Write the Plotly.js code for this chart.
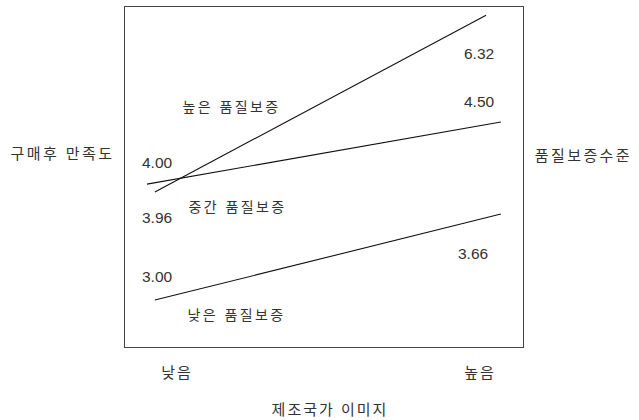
<!DOCTYPE html>
<html>
<head>
<meta charset="utf-8">
<script src="https://cdn.plot.ly/plotly-3.0.1.min.js"></script>
<style>html,body{margin:0;padding:0;background:#fff;}#chart{width:639px;height:420px;}</style>
</head>
<body>
<div id="chart"></div>
<script>
// Data
const groups = ['높은 품질보증', '중간 품질보증', '낮은 품질보증'];
const xTickLabels = ['낮음', '높음'];
const xTickVals = [0, 1];
// reported means (low / high country-of-origin image)
const highValues = [3.96, 6.32];
const midValues = [4.00, 4.50];
const lowValues = [3.00, 3.66];
// schematic line endpoints as drawn in the figure (hidden scale)
const highX = [-0.073, 1.020];
const highY = [4.56, 9.76];
const midX = [-0.099, 1.069];
const midY = [4.79, 6.62];
const lowX = [-0.073, 1.069];
const lowY = [1.38, 3.91];

const fontFam = 'Liberation Sans, Noto Sans CJK KR, sans-serif';
const txtColor = '#333';

const lineStyle = {color: '#111', width: 1.1};
const traces = [
  {x: highX, y: highY, mode: 'lines', line: lineStyle, name: groups[0], hoverinfo: 'skip'},
  {x: midX, y: midY, mode: 'lines', line: lineStyle, name: groups[1], hoverinfo: 'skip'},
  {x: lowX, y: lowY, mode: 'lines', line: lineStyle, name: groups[2], hoverinfo: 'skip'}
];

function ann(text, x, y, size) {
  return {text: text, x: x, y: y, xref: 'x', yref: 'y', showarrow: false,
          font: {family: fontFam, size: size || 15, color: txtColor},
          xanchor: 'center', yanchor: 'middle'};
}
const fmt = v => v.toFixed(2);

const annotations = [
  ann(fmt(highValues[1]), 0.997, 8.62, 15.5),
  ann(fmt(midValues[1]), 0.997, 7.21, 15.5),
  ann(fmt(midValues[0]), -0.066, 5.44, 15.5),
  ann(fmt(highValues[0]), -0.066, 3.82, 15.5),
  ann(fmt(lowValues[0]), -0.066, 2.06, 15.5),
  ann(fmt(lowValues[1]), 0.977, 2.76, 15.5),
  ann(groups[0], 0.179, 7.06, 14),
  ann(groups[1], 0.201, 4.12, 14),
  ann(groups[2], 0.198, 0.94, 14),
  {text: '구매후 만족도', xref: 'paper', yref: 'paper', x: (62-125)/398, y: (347-153)/340,
   showarrow: false, xanchor: 'center', yanchor: 'middle',
   font: {family: fontFam, size: 15, color: txtColor}},
  {text: '품질보증수준', xref: 'paper', yref: 'paper', x: (583-125)/398, y: (347-155)/340,
   showarrow: false, xanchor: 'center', yanchor: 'middle',
   font: {family: fontFam, size: 15, color: txtColor}}
];

const layout = {
  width: 639, height: 420,
  margin: {l: 125, r: 116, t: 7, b: 73},
  paper_bgcolor: '#fff', plot_bgcolor: '#fff',
  showlegend: false,
  xaxis: {
    range: [-0.1716, 1.1419], tickvals: xTickVals, ticktext: xTickLabels,
    ticks: 'outside', ticklen: 12, tickcolor: 'rgba(0,0,0,0)',
    showgrid: false, zeroline: false, showline: true, mirror: true,
    linecolor: '#444', linewidth: 1,
    tickfont: {family: fontFam, size: 15, color: txtColor},
    title: {text: '제조국가 이미지', standoff: 24, font: {family: fontFam, size: 15, color: txtColor}}
  },
  yaxis: {
    range: [0, 10], showticklabels: false, ticks: '',
    showgrid: false, zeroline: false, showline: true, mirror: true,
    linecolor: '#444', linewidth: 1
  },
  annotations: annotations
};

Plotly.newPlot('chart', traces, layout, {staticPlot: true, displayModeBar: false}).then(function(gd) {
  const hangul = /[\uAC00-\uD7A3]/;
  gd.querySelectorAll('.annotation-text, .xtick text, .xtitle').forEach(function(el) {
    if (hangul.test(el.textContent)) {
      const sp = el.classList.contains('annotation-text') ? 2.4 : 2;
      el.style.letterSpacing = sp + 'px';
      if (el.classList.contains('xtitle')) {
        const cur = el.getAttribute('transform') || '';
        el.setAttribute('transform', cur + ' translate(6,0)');
      }
    }
  });
});
</script>
</body>
</html>
